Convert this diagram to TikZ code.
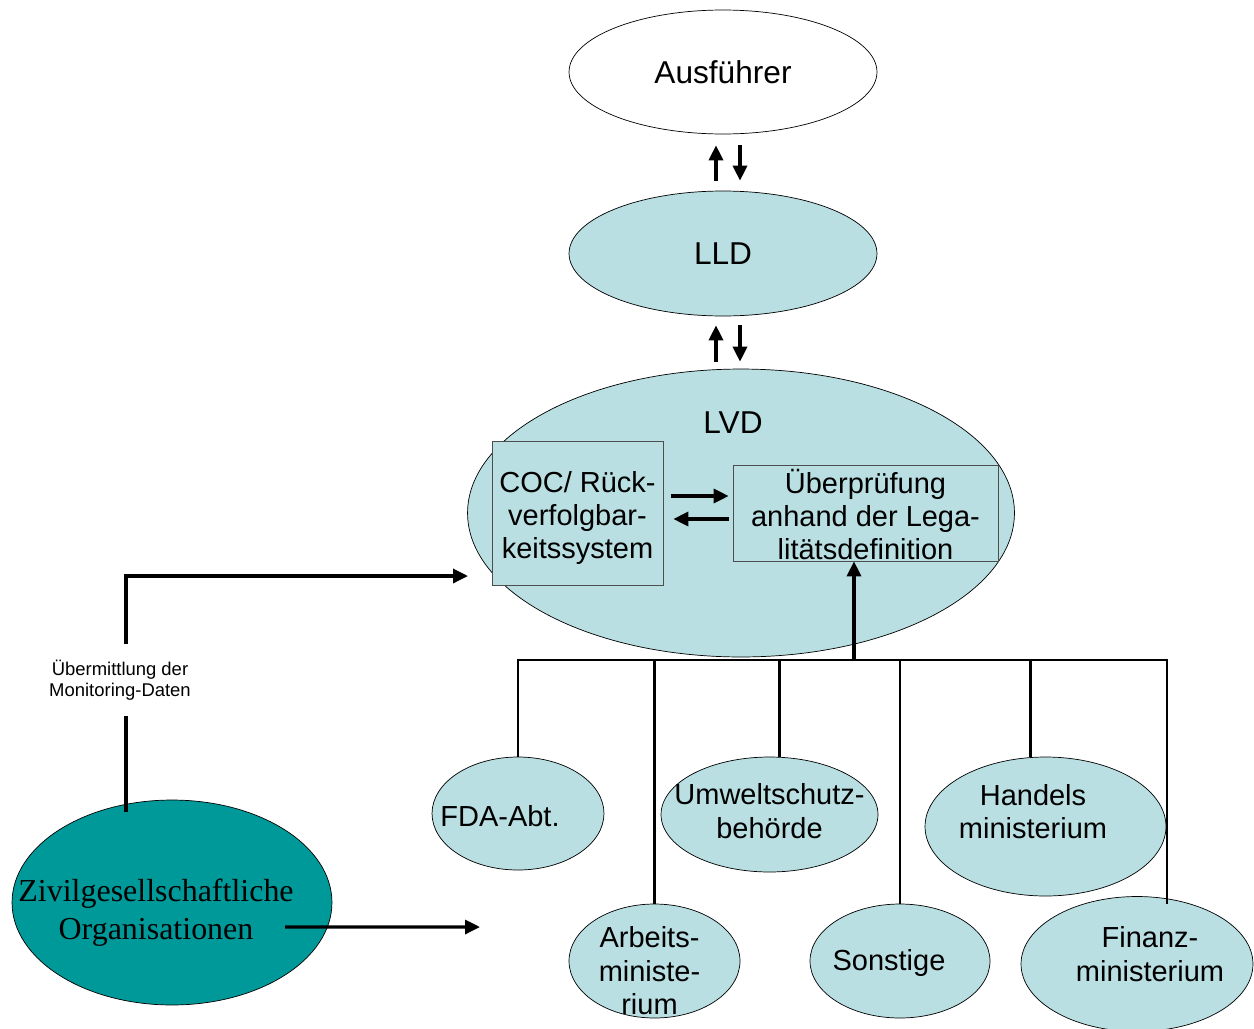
\documentclass[tikz,border=0pt]{standalone}
\usepackage{fontspec}
\setmainfont{Liberation Sans}
\newfontfamily\zivilfont{Liberation Serif}
\usetikzlibrary{shapes.geometric}
\usetikzlibrary{arrows.meta,positioning,calc}
\definecolor{agency_fill_colour}{HTML}{B9DFE2}
\definecolor{civil_fill_colour}{HTML}{009999}
\definecolor{box_border_colour}{HTML}{4D4D4D}
\tikzset{
ellipse_text/.style={align=center,inner sep=0pt,font=\fontsize{16.5}{19}\selectfont},
title_text/.style={inner sep=0pt,font=\fontsize{18}{21}\selectfont}
}
\tikzstyle{white_ellipse} =[ellipse,draw,fill=white,inner sep=0pt]
\tikzstyle{agency_ellipse} =[ellipse,draw,fill=agency_fill_colour,inner sep=0pt]
\tikzstyle{inner_box} =[rectangle,draw=box_border_colour,fill=agency_fill_colour,inner sep=0pt]
\tikzstyle{flow_arrow} =[-{Triangle[length=0.3cm,width=0.28cm]},line width=1.9pt]
\tikzstyle{flow_line} =[line width=1.6pt]

\begin{document}
\begin{tikzpicture}[x=0.02cm,y=-0.02cm]

    \useasboundingbox (0,0) rectangle (1254,1028);

    % Upper chain
    \node[white_ellipse,minimum width=6.16cm,minimum height=2.48cm,label={[title_text]center:Ausführer}] (exporter_node) at (723,72) {};
    \node[agency_ellipse,minimum width=6.16cm,minimum height=2.5cm,label={[title_text]center:LLD}] (lld_node) at (723,253.5) {};
    \node[agency_ellipse,minimum width=10.94cm,minimum height=5.76cm,label={[title_text,xshift=-0.16cm,yshift=1.8cm]center:LVD}] (lvd_node) at (741,513) {};

    % Boxes inside LVD
    \node[inner_box,minimum width=3.42cm,minimum height=2.88cm,label={[ellipse_text,yshift=-0.1cm]center:COC/ Rück-\\verfolgbar-\\keitssystem}] (coc_node) at (577.5,513) {};
    \node[inner_box,minimum width=5.3cm,minimum height=1.92cm,label={[ellipse_text,yshift=-0.03cm]center:Überprüfung\\anhand der Lega-\\litätsdefinition}] (check_node) at (865.5,513) {};

    % Authorities
    \node[agency_ellipse,minimum width=3.44cm,minimum height=2.26cm,label={[ellipse_text,xshift=-0.36cm,yshift=-0.05cm]center:FDA-Abt.}] (fda_node) at (518,813.5) {};
    \node[agency_ellipse,minimum width=4.34cm,minimum height=2.3cm,label={[ellipse_text,yshift=0.07cm]center:Umweltschutz-\\behörde}] (environment_node) at (769.5,814.5) {};
    \node[agency_ellipse,minimum width=4.82cm,minimum height=2.78cm,label={[ellipse_text,xshift=-0.25cm,yshift=0.3cm]center:Handels\\ministerium}] (trade_node) at (1045.5,826.5) {};
    \node[agency_ellipse,minimum width=3.42cm,minimum height=2.28cm,label={[ellipse_text,xshift=-0.1cm,yshift=-0.2cm]center:Arbeits-\\ministe-\\rium}] (labour_node) at (654.5,961) {};
    \node[agency_ellipse,minimum width=3.6cm,minimum height=2.28cm,label={[ellipse_text,xshift=-0.22cm,yshift=-0.04cm]center:Sonstige}] (other_node) at (900,961) {};
    \node[agency_ellipse,minimum width=4.64cm,minimum height=2.7cm,label={[ellipse_text,xshift=0.26cm,yshift=0.2cm]center:Finanz-\\ministerium}] (finance_node) at (1137,964) {};

    % Civil society
    \node[ellipse,draw,fill=civil_fill_colour,inner sep=0pt,minimum width=6.4cm,minimum height=4.1cm,label={[align=center,inner sep=0pt,font=\zivilfont\fontsize{18.2}{21.5}\selectfont,xshift=-0.32cm,yshift=-0.21cm]center:Zivilgesellschaftliche\\Organisationen}] (civil_node) at (172,902.5) {};
    \node[align=center,fill=white,inner xsep=1pt,inner ysep=0.3cm,font=\fontsize{10.5}{12}\selectfont] (monitoring_label) at (120,680) {Übermittlung der\\Monitoring-Daten};

    % Exporter <-> LLD <-> LVD
    \draw[flow_arrow,shorten <=0.2cm,shorten >=0.22cm] ($(lld_node.north)+(-7,0)$) -- ($(exporter_node.south)+(-7,0)$);
    \draw[flow_arrow,shorten <=0.22cm,shorten >=0.2cm] ($(exporter_node.south)+(17,0)$) -- ($(lld_node.north)+(17,0)$);
    \draw[flow_arrow,shorten <=0.14cm,shorten >=0.18cm] ($(lvd_node.north)+(-25,0)$) -- ($(lld_node.south)+(-7,0)$);
    \draw[flow_arrow,shorten <=0.18cm,shorten >=0.14cm] ($(lld_node.south)+(17,0)$) -- ($(lvd_node.north)+(-1,0)$);

    % COC <-> check
    \draw[flow_arrow,shorten <=0.16cm,shorten >=0.08cm] ($(coc_node.east)+(0,-17)$) -- ($(check_node.west)+(0,-17)$);
    \draw[flow_arrow,shorten <=0.08cm,shorten >=0.2cm] ($(check_node.west)+(0,6)$) -- ($(coc_node.east)+(0,6)$);

    % Authorities to check
    \coordinate (bus_junction) at (854,660);
    \coordinate (bus_east) at (1167,660);
    \draw[flow_line] (fda_node.north) |- (bus_east) -- ($(finance_node.north -| bus_east)+(0,8)$);
    \draw[flow_line] (labour_node.north) -- (labour_node.north |- bus_east);
    \draw[flow_line] ($(environment_node.north)+(10,0)$) -- ($(environment_node.north |- bus_east)+(10,0)$);
    \draw[flow_line] (other_node.north) -- (other_node.north |- bus_east);
    \draw[flow_line] ($(trade_node.north)+(-15,0)$) -- ($(trade_node.north |- bus_east)+(-15,0)$);
    \draw[flow_arrow] (bus_junction) -- (bus_junction |- check_node.south);

    % Civil society monitoring
    \coordinate (monitor_start) at (126,812);
    \coordinate (monitor_end) at (468,576);
    \coordinate (civil_target) at (480,927);
    \draw[flow_line,line width=1.9pt] (monitor_start) -- (monitor_start |- monitoring_label.south);
    \draw[flow_arrow] (monitor_start |- monitoring_label.north) |- (monitor_end);
    \draw[flow_arrow] ($(civil_node.center)+(113,24.5)$) -- (civil_target);

\end{tikzpicture}
\end{document}
